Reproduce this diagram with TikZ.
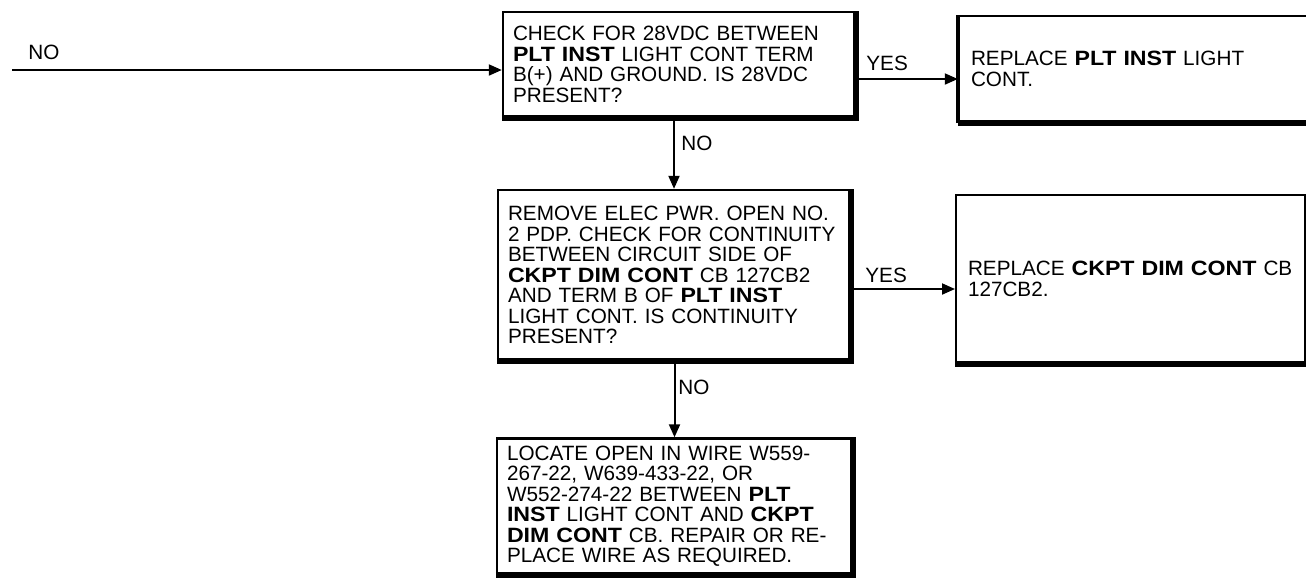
\documentclass[tikz,border=0pt]{standalone}
\usepackage{fontspec}
\setmainfont{Liberation Sans}[BoldFeatures={FakeStretch=1.12}]
\usetikzlibrary{arrows.meta}
\newcommand{\txtfont}{\fontsize{10.35}{10.25}\selectfont}
\begin{document}
\begin{tikzpicture}[x=0.5pt,y=-0.5pt,
  box/.style={draw, line width=1.2pt, rectangle, inner xsep=5pt, inner ysep=0pt,
    align=left, font=\txtfont},
  conn/.style={line width=1pt, -{Triangle[length=6.5pt,width=5.5pt]}},
  lbl/.style={font=\txtfont, inner sep=0pt, anchor=west},
  shadowline/.style={line width=3pt, line join=miter}
]
\useasboundingbox (0,0) rectangle (1306,585);
\clip (0,0) rectangle (1306,585);

% boxes
\node[box, text width=166pt, minimum height=52.5pt] (b1) at (679,64.5)
  {CHECK FOR 28VDC BETWEEN\\
   \textbf{PLT INST} LIGHT CONT TERM\\
   B(+) AND GROUND. IS 28VDC\\
   PRESENT?};
\node[box, text width=166pt, minimum height=85pt] (b2) at (674,275)
  {REMOVE ELEC PWR. OPEN NO.\\
   \mbox{2 PDP. CHECK FOR CONTINUITY}\\
   BETWEEN CIRCUIT SIDE OF\\
   \mbox{\textbf{CKPT DIM CONT} CB 127CB2}\\
   \mbox{AND TERM B OF \textbf{PLT INST}}\\
   LIGHT CONT. IS CONTINUITY\\
   PRESENT?};
\node[box, text width=167.5pt, minimum height=67.5pt] (b3) at (674.5,506)
  {LOCATE OPEN IN WIRE W559-\\
   267-22, W639-433-22, OR\\
   \mbox{W552-274-22 BETWEEN \textbf{PLT}}\\
   \mbox{\textbf{INST} LIGHT CONT AND \textbf{CKPT}}\\
   \mbox{\textbf{DIM CONT} CB. REPAIR OR RE-}\\
   PLACE WIRE AS REQUIRED.};
\node[box, text width=164.5pt, minimum height=53pt, inner xsep=6pt] (r1) at (1135.5,69)
  {\mbox{REPLACE \textbf{PLT INST} LIGHT}\\
   CONT.};
\node[box, text width=162.5pt, minimum height=84pt, inner xsep=6pt, line width=1pt] (r2) at (1130.5,279)
  {\mbox{REPLACE \textbf{CKPT DIM CONT} CB}\\
   127CB2.};

% heavy bottom / right edges
\draw[shadowline] (b1.south west) -- (b1.south east) -- (b1.north east);
\draw[shadowline] (b2.south west) -- (b2.south east) -- (b2.north east);
\draw[shadowline] (b3.south west) -- (b3.south east) -- (b3.north east);
\draw[shadowline] (r1.south west) -- (r1.south east);
\draw[line width=1.8pt] (r1.south west) -- (r1.north west);
\draw[shadowline] (r2.south west) -- (r2.south east);

% connectors
\coordinate (inA) at (12,70);
\coordinate (ya) at (0,79);
\coordinate (yb) at (0,289);
\draw[conn] (inA) -- (inA -| b1.west);
\draw[conn] (b1.east |- ya) -- (r1.west |- ya);
\draw[conn] (b2.north |- b1.south) -- (b2.north);
\draw[conn] (b2.east |- yb) -- (r2.west |- yb);
\draw[conn] (b3.north |- b2.south) -- (b3.north);

% labels
\node[lbl] (noA) at (28,52) {NO};
\node[lbl] (yes1) at (866,63) {YES};
\node[lbl] (no1) at (681,143) {NO};
\node[lbl] (yes2) at (865,275) {YES};
\node[lbl] (no2) at (678,387) {NO};
\end{tikzpicture}
\end{document}
